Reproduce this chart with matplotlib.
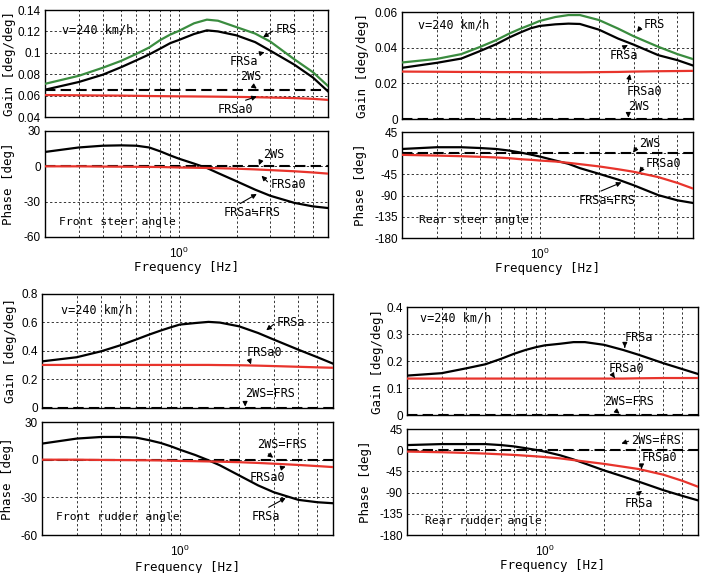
import numpy as np
import matplotlib.pyplot as plt
from matplotlib.ticker import FixedLocator, NullFormatter, FixedFormatter

# frequency points [Hz]
freq = [0.2, 0.3, 0.4, 0.5, 0.6, 0.7, 0.8, 0.9, 1.0, 1.2, 1.4, 1.6, 2.0, 2.5, 3.0, 4.0, 5.0, 6.0]

# front steer angle
fs_gain_frs = [0.0710, 0.0785, 0.0860, 0.0925, 0.0990, 0.1050, 0.1120, 0.1170, 0.1205, 0.1276,
               0.1310, 0.1300, 0.1240, 0.1180, 0.1105, 0.0940, 0.0820, 0.0690]
fs_gain_frsa = [0.0655, 0.0727, 0.0795, 0.0866, 0.0930, 0.0985, 0.1040, 0.1090, 0.1120, 0.1176,
                0.1210, 0.1200, 0.1163, 0.1100, 0.1020, 0.0890, 0.0770, 0.0640]
fs_gain_frsa0 = [0.0605, 0.0603, 0.0601, 0.0600, 0.0598, 0.0596, 0.0595, 0.0594, 0.0593, 0.0592,
                 0.0591, 0.0590, 0.0588, 0.0585, 0.0582, 0.0577, 0.0570, 0.0560]
fs_gain_2ws = 0.0652
fs_phase_frsa = [12.2, 16.0, 17.5, 17.8, 17.5, 16.0, 12.7, 9.3, 6.5, 2.3, -1.4, -5.7, -12.7, -19.8,
                 -25.0, -31.0, -34.0, -35.4]
fs_phase_frsa0 = [0.0, 0.0, -0.2, -0.3, -0.4, -0.5, -0.6, -0.8, -1.0, -1.2, -1.4, -1.6, -2.0, -2.6,
                  -3.2, -4.2, -5.2, -6.2]
fs_phase_2ws = 0.0

# rear steer angle
rs_gain_frs = [0.0317, 0.0337, 0.0364, 0.0405, 0.0442, 0.0479, 0.0507, 0.0529, 0.0550, 0.0572,
               0.0583, 0.0583, 0.0555, 0.0507, 0.0464, 0.0405, 0.0364, 0.0336]
rs_gain_frsa = [0.0287, 0.0315, 0.0339, 0.0382, 0.0419, 0.0457, 0.0486, 0.0509, 0.0522, 0.0531,
                0.0535, 0.0533, 0.0501, 0.0451, 0.0417, 0.0358, 0.0330, 0.0300]
rs_gain_frsa0 = [0.0266, 0.0265, 0.0264, 0.0264, 0.0263, 0.0263, 0.0263, 0.0262, 0.0262, 0.0262,
                 0.0262, 0.0262, 0.0263, 0.0264, 0.0266, 0.0268, 0.0269, 0.0270]
rs_gain_2ws = 0.0
rs_phase_frsa = [9.0, 12.7, 12.7, 11.0, 9.0, 5.6, 1.4, -2.8, -7.0, -15.5, -22.5, -31.7, -43.7, -56.0,
                 -68.0, -89.0, -100.0, -105.6]
rs_phase_frsa0 = [-3.5, -5.0, -6.3, -7.7, -9.0, -10.6, -12.7, -14.0, -15.5, -17.6, -20.4, -23.2,
                  -28.0, -34.0, -39.4, -50.7, -63.0, -75.0]
rs_phase_2ws = 0.0

# front rudder angle
fr_gain_frsa = [0.327, 0.356, 0.398, 0.440, 0.480, 0.515, 0.543, 0.566, 0.585, 0.596, 0.604, 0.599,
                0.573, 0.526, 0.480, 0.409, 0.356, 0.311]
fr_gain_frsa0 = [0.302, 0.302, 0.302, 0.302, 0.302, 0.302, 0.302, 0.302, 0.302, 0.302, 0.302, 0.301,
                 0.300, 0.297, 0.294, 0.289, 0.285, 0.282]
fr_gain_2ws = 0.0
fr_phase_frsa = [12.8, 16.8, 18.1, 18.1, 17.6, 15.5, 13.3, 10.7, 8.0, 3.7, -0.5, -4.5, -12.5, -20.5,
                 -25.9, -32.0, -33.9, -34.7]
fr_phase_frsa0 = [0.0, 0.0, -0.2, -0.3, -0.4, -0.5, -0.6, -0.8, -1.0, -1.2, -1.4, -1.6, -2.0, -2.6,
                  -3.2, -4.2, -5.1, -5.9]
fr_phase_2ws = 0.0

# rear rudder angle
rr_gain_frsa = [0.146, 0.155, 0.173, 0.188, 0.208, 0.227, 0.241, 0.251, 0.258, 0.264, 0.270, 0.270,
                0.260, 0.241, 0.223, 0.192, 0.170, 0.152]
rr_gain_frsa0 = [0.135, 0.135, 0.135, 0.135, 0.135, 0.135, 0.135, 0.135, 0.135, 0.135, 0.135, 0.135,
                 0.135, 0.135, 0.136, 0.137, 0.137, 0.137]
rr_gain_2ws = 0.0
rr_phase_frsa = [10.9, 13.0, 13.0, 13.0, 10.9, 8.0, 4.3, 0.7, -2.9, -10.9, -19.6, -28.3, -42.8, -55.8,
                 -66.7, -84.8, -97.0, -106.5]
rr_phase_frsa0 = [-2.9, -4.3, -5.8, -7.2, -8.7, -10.0, -11.6, -13.0, -14.5, -17.4, -21.0, -24.0,
                  -29.0, -35.0, -40.0, -52.0, -65.0, -77.5]
rr_phase_2ws = 0.0

# tick labels
fs_gain_ticks = [0.04, 0.06, 0.08, 0.1, 0.12, 0.14]
fs_gain_labels = ['0.04', '0.06', '0.08', '0.1', '0.12', '0.14']
rs_gain_ticks = [0, 0.02, 0.04, 0.06]
rs_gain_labels = ['0', '0.02', '0.04', '0.06']
fr_gain_ticks = [0, 0.2, 0.4, 0.6, 0.8]
fr_gain_labels = ['0', '0.2', '0.4', '0.6', '0.8']
rr_gain_ticks = [0, 0.1, 0.2, 0.3, 0.4]
rr_gain_labels = ['0', '0.1', '0.2', '0.3', '0.4']
front_phase_ticks = [-60, -30, 0, 30]
rear_phase_ticks = [-180, -135, -90, -45, 0, 45]

GREEN = '#3a8c3f'
RED = '#e8342c'
MONO = ['DejaVu Sans Mono', 'Noto Sans CJK JP']
TICKFONT = 'Liberation Sans'

fig = plt.figure(figsize=(7.05, 5.73), dpi=100)


def setup(ax, yticks, ylabels, ylim, ylabel, lab_x, show_x):
    ax.set_xscale('log')
    ax.set_xlim(0.2, 6.0)
    ax.set_ylim(*ylim)
    ax.xaxis.set_major_locator(FixedLocator([1.0]))
    ax.xaxis.set_minor_locator(FixedLocator([0.3, 0.4, 0.5, 0.6, 0.7, 0.8, 0.9, 2, 3, 4, 5]))
    ax.xaxis.set_minor_formatter(NullFormatter())
    if not show_x:
        ax.xaxis.set_major_formatter(NullFormatter())
    ax.yaxis.set_major_locator(FixedLocator(yticks))
    ax.yaxis.set_major_formatter(FixedFormatter(ylabels))
    ax.tick_params(which='both', length=0, labelsize=8.5, pad=3)
    ax.tick_params(axis='x', pad=6)
    for t in ax.get_xticklabels() + ax.get_yticklabels():
        t.set_fontfamily(TICKFONT)
    ax.grid(True, which='both', color='black', linestyle=(0, (3, 3)), linewidth=0.55)
    for s in ax.spines.values():
        s.set_linewidth(1.0)
    ax.set_ylabel(ylabel, family=MONO, fontsize=9, va='center')
    ax.yaxis.set_label_coords(lab_x, 0.5)
    if show_x:
        ax.set_xlabel('Frequency [Hz]', family=MONO, fontsize=9, va='center')
        ax.xaxis.set_label_coords(0.5, -0.29)


def lines(ax, black, red, dashed, green=None):
    ax.axhline(dashed, color='black', lw=1.5, linestyle=(0, (5, 2.5)), zorder=2.5)
    if green is not None:
        ax.plot(freq, green, color=GREEN, lw=1.6, zorder=3)
    ax.plot(freq, black, color='black', lw=1.6, zorder=3)
    ax.plot(freq, red, color=RED, lw=1.6, zorder=3)


def note(ax, text, xy_text, xy_tip):
    ax.annotate(text, xy=xy_tip, xytext=xy_text, family=MONO, fontsize=8.5,
                ha='left', va='center', zorder=5,
                arrowprops=dict(arrowstyle='-|>', color='black', lw=0.8,
                                mutation_scale=7, shrinkA=0, shrinkB=0,
                                relpos=(0.0, 0.5)))


# ---- front steer angle ----
ax = fig.add_axes([0.0638, 0.7958, 0.4014, 0.1867])
setup(ax, fs_gain_ticks, fs_gain_labels, (0.04, 0.14), 'Gain [deg/deg]', -0.125, False)
lines(ax, fs_gain_frsa, fs_gain_frsa0, fs_gain_2ws, fs_gain_frs)
ax.text(0.245, 0.1215, 'v=240 km/h', family=MONO, fontsize=8.5, va='center')
note(ax, 'FRS', (3.2, 0.122), (2.75, 0.1145))
note(ax, 'FRSa', (1.85, 0.092), (2.8, 0.1005))
note(ax, '2WS', (2.1, 0.0775), (2.55, 0.0665))
note(ax, 'FRSa0', (1.6, 0.047), (2.55, 0.0592))

ax = fig.add_axes([0.0638, 0.5864, 0.4014, 0.185])
setup(ax, front_phase_ticks, [str(v) for v in front_phase_ticks], (-60, 30), 'Phase [deg]', -0.13, True)
lines(ax, fs_phase_frsa, fs_phase_frsa0, fs_phase_2ws)
ax.text(0.238, -47, 'Front steer angle', family=MONO, fontsize=8.2, va='center')
note(ax, '2WS', (2.75, 10), (2.62, 1.0))
note(ax, 'FRSa0', (3.0, -15.5), (2.7, -8.0))
note(ax, 'FRSa≒FRS', (1.72, -39.5), (2.55, -23.5))

# ---- rear steer angle ----
ax = fig.add_axes([0.5702, 0.7923, 0.4128, 0.1867])
setup(ax, rs_gain_ticks, rs_gain_labels, (0, 0.06), 'Gain [deg/deg]', -0.134, False)
lines(ax, rs_gain_frsa, rs_gain_frsa0, rs_gain_2ws, rs_gain_frs)
ax.text(0.24, 0.0525, 'v=240 km/h', family=MONO, fontsize=8.5, va='center')
note(ax, 'FRS', (3.35, 0.0532), (3.12, 0.0488))
note(ax, 'FRSa', (2.27, 0.0358), (2.8, 0.0415))
note(ax, 'FRSa0', (2.76, 0.0155), (2.87, 0.0252))
note(ax, '2WS', (2.81, 0.0070), (2.82, 0.0008))

ax = fig.add_axes([0.5702, 0.5846, 0.4128, 0.185])
setup(ax, rear_phase_ticks, [str(v) for v in rear_phase_ticks], (-180, 45), 'Phase [deg]', -0.144, True)
lines(ax, rs_phase_frsa, rs_phase_frsa0, rs_phase_2ws)
ax.text(0.245, -141, 'Rear steer angle', family=MONO, fontsize=8.2, va='center')
note(ax, '2WS', (3.2, 20), (2.98, 1.0))
note(ax, 'FRSa0', (3.45, -22.5), (3.2, -41))
note(ax, 'FRSa≒FRS', (1.58, -100), (2.6, -62))

# ---- front rudder angle ----
ax = fig.add_axes([0.0596, 0.2880, 0.4128, 0.199])
setup(ax, fr_gain_ticks, fr_gain_labels, (0, 0.8), 'Gain [deg/deg]', -0.11, False)
lines(ax, fr_gain_frsa, fr_gain_frsa0, fr_gain_2ws)
ax.text(0.25, 0.69, 'v=240 km/h', family=MONO, fontsize=8.5, va='center')
note(ax, 'FRSa', (3.1, 0.603), (2.75, 0.545))
note(ax, 'FRSa0', (2.19, 0.39), (2.3, 0.306))
note(ax, '2WS=FRS', (2.14, 0.105), (2.15, 0.01))

ax = fig.add_axes([0.0596, 0.0663, 0.4128, 0.1972])
setup(ax, front_phase_ticks, [str(v) for v in front_phase_ticks], (-60, 30), 'Phase [deg]', -0.117, True)
lines(ax, fr_phase_frsa, fr_phase_frsa0, fr_phase_2ws)
ax.text(0.236, -45.3, 'Front rudder angle', family=MONO, fontsize=8.2, va='center')
note(ax, '2WS=FRS', (2.46, 12), (2.98, 1.5))
note(ax, 'FRSa0', (2.27, -14), (3.45, -5.5))
note(ax, 'FRSa', (2.32, -45.3), (3.45, -30.5))

# ---- rear rudder angle ----
ax = fig.add_axes([0.5773, 0.2757, 0.4128, 0.1885])
setup(ax, rr_gain_ticks, rr_gain_labels, (0, 0.4), 'Gain [deg/deg]', -0.103, False)
lines(ax, rr_gain_frsa, rr_gain_frsa0, rr_gain_2ws)
ax.text(0.233, 0.358, 'v=240 km/h', family=MONO, fontsize=8.5, va='center')
note(ax, 'FRSa', (2.55, 0.287), (2.55, 0.25))
note(ax, 'FRSa0', (2.1, 0.173), (2.27, 0.137))
note(ax, '2WS=FRS', (2.0, 0.05), (2.4, 0.005))

ax = fig.add_axes([0.5773, 0.0663, 0.4128, 0.185])
setup(ax, rear_phase_ticks, [str(v) for v in rear_phase_ticks], (-180, 45), 'Phase [deg]', -0.144, True)
lines(ax, rr_phase_frsa, rr_phase_frsa0, rr_phase_2ws)
ax.text(0.248, -150, 'Rear rudder angle', family=MONO, fontsize=8.2, va='center')
note(ax, '2WS=FRS', (2.75, 21), (2.45, 14))
note(ax, 'FRSa0', (3.1, -16), (3.1, -40))
note(ax, 'FRSa', (2.55, -114), (3.12, -86))

fig.savefig('out.png', dpi=100)
